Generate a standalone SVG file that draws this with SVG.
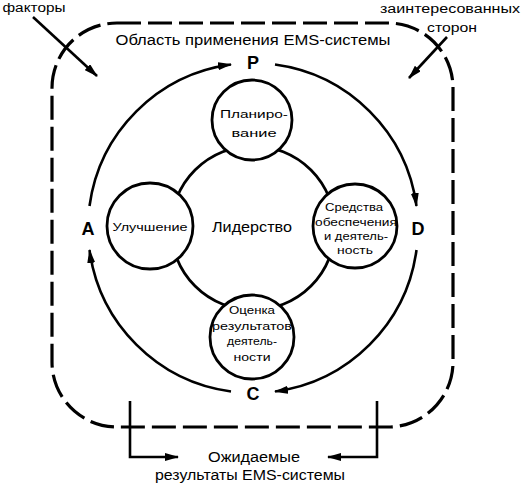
<svg xmlns="http://www.w3.org/2000/svg" width="526" height="484" viewBox="0 0 526 484">
<defs>
<style>
text{font-family:"Liberation Sans",Arial,sans-serif;fill:#000;text-anchor:middle}
.t{font-size:12.5px}
.n{font-size:11.5px}
.b{font-size:18px;font-weight:bold}
.ln{fill:none;stroke:#000;stroke-width:2.6}
.c{fill:#fff;stroke:#000;stroke-width:2.8}
.dash{fill:none;stroke:#000;stroke-width:3.2;stroke-dasharray:24 7}
</style>
<marker id="ah" viewBox="0 0 14 8" refX="13" refY="4" markerWidth="14" markerHeight="8" markerUnits="userSpaceOnUse" orient="auto">
<path d="M0,0 L14,4 L0,8 Z" fill="#000"/>
</marker>
</defs>
<rect width="526" height="484" fill="#fff"/>
<g id="scope">
<rect class="dash" x="52" y="23" width="401" height="404" rx="65" ry="65"/>
<text class="t" x="253" y="45" textLength="275" lengthAdjust="spacingAndGlyphs" style="font-size:14px">Область применения EMS-системы</text>
</g>
<g id="connectors">
<path class="ln" d="M89.5 206 A165 165 0 0 1 231 64.5" marker-end="url(#ah)"/>
<path class="ln" d="M275 64.5 A165 165 0 0 1 416.5 206" marker-end="url(#ah)"/>
<path class="ln" d="M416.5 250 A165 165 0 0 1 275 391.5" marker-end="url(#ah)"/>
<path class="ln" d="M231 391.5 A165 165 0 0 1 89.5 250" marker-end="url(#ah)"/>
<path class="ln" d="M33 17 L97 76" marker-end="url(#ah)"/>
<path class="ln" d="M447 37 L409 78" marker-end="url(#ah)"/>
<path class="ln" d="M130 401 L130 457 L178 457" marker-end="url(#ah)"/>
<path class="ln" d="M377 401 L377 457 L328 457" marker-end="url(#ah)"/>
</g>
<g id="labels">
<text class="b" x="253" y="69">P</text>
<text class="b" x="88" y="235">A</text>
<text class="b" x="418" y="235">D</text>
<text class="b" x="253" y="400">C</text>
<text class="t" x="34" y="12" textLength="63" lengthAdjust="spacingAndGlyphs">факторы</text>
<text class="t" x="450" y="13" textLength="140" lengthAdjust="spacingAndGlyphs">заинтересованных</text>
<text class="t" x="452" y="32" textLength="50" lengthAdjust="spacingAndGlyphs">сторон</text>
<text class="t" x="254" y="462" textLength="92" lengthAdjust="spacingAndGlyphs" style="font-size:14px">Ожидаемые</text>
<text class="t" x="250" y="480" textLength="190" lengthAdjust="spacingAndGlyphs" style="font-size:14px">результаты EMS-системы</text>
</g>
<g id="leadership">
<circle class="c" cx="253" cy="228" r="82"/>
<text class="t" x="252" y="232" textLength="80" lengthAdjust="spacingAndGlyphs" style="font-size:14px">Лидерство</text>
</g>
<g id="planning">
<circle class="c" cx="252" cy="120" r="40"/>
<text class="n" x="254" y="118" textLength="68" lengthAdjust="spacingAndGlyphs">Планиро-</text>
<text class="n" x="254" y="137" textLength="45" lengthAdjust="spacingAndGlyphs">вание</text>
</g>
<g id="improvement">
<circle class="c" cx="150" cy="226" r="43"/>
<text class="n" x="150" y="231" textLength="75" lengthAdjust="spacingAndGlyphs">Улучшение</text>
</g>
<g id="support">
<circle class="c" cx="355" cy="226" r="42"/>
<text class="n" x="354" y="211" textLength="58" lengthAdjust="spacingAndGlyphs">Средства</text>
<text class="n" x="356" y="226" textLength="82" lengthAdjust="spacingAndGlyphs">обеспечения</text>
<text class="n" x="356" y="240" textLength="64" lengthAdjust="spacingAndGlyphs">и деятель-</text>
<text class="n" x="355" y="254" textLength="36" lengthAdjust="spacingAndGlyphs">ность</text>
</g>
<g id="evaluation">
<circle class="c" cx="252" cy="337" r="42"/>
<text class="n" x="252" y="314" textLength="46" lengthAdjust="spacingAndGlyphs">Оценка</text>
<text class="n" x="252" y="330" textLength="80" lengthAdjust="spacingAndGlyphs">результатов</text>
<text class="n" x="252" y="345" textLength="50" lengthAdjust="spacingAndGlyphs">деятель-</text>
<text class="n" x="252" y="361" textLength="37" lengthAdjust="spacingAndGlyphs">ности</text>
</g>
</svg>
